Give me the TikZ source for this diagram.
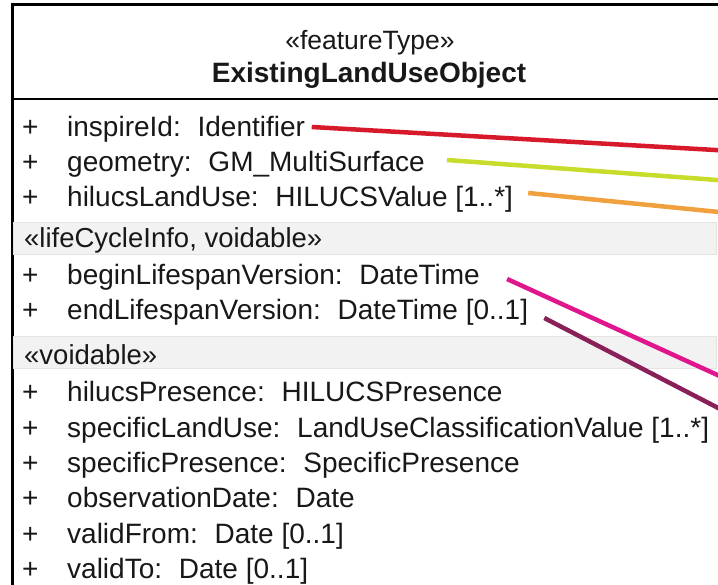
\documentclass[tikz,border=0pt]{standalone}
\usepackage{fontspec}
\setmainfont{Liberation Sans}
\usepackage{tikz}
\usetikzlibrary{positioning}

\definecolor{txtDark}{RGB}{24,24,24}
\definecolor{bandGray}{RGB}{242,242,242}
\definecolor{bandLine}{RGB}{228,228,228}
\definecolor{lnRed}{RGB}{214,26,44}
\definecolor{lnYellow}{RGB}{200,220,44}
\definecolor{lnOrange}{RGB}{240,160,62}
\definecolor{lnMagenta}{RGB}{224,22,140}
\definecolor{lnPurple}{RGB}{138,32,90}

\newcommand{\colgap}{\hspace{0.6em}}
\newcommand{\plusbox}{\makebox[45pt][l]{+}}

\begin{document}
\begin{tikzpicture}[x=1pt,y=1pt,yscale=-1,xscale=1,
  attr/.style={anchor=base west,inner sep=0pt,text height=20pt,text depth=6pt,text=txtDark,font=\fontsize{28}{32}\selectfont},
  stereo/.style={anchor=base west,inner sep=0pt,text=txtDark,font=\fontsize{27.5}{32}\selectfont},
  title/.style={anchor=base,inner sep=0pt,text=txtDark},
  band/.style={fill=bandGray,draw=bandLine,line width=0.8pt},
  conn/.style={line width=4.5pt}]
\useasboundingbox (0,0) rectangle (718,585);
\clip (0,0) rectangle (718,585);

%Shape: Rectangle (class box, runs past the right and lower edges)
\draw [line width=3pt,fill=white] (12,5) rectangle (730,600) ;
%Straight Lines (header divider)
\draw [line width=2pt] (12,99) -- (730,99) ;
%Shape: Rectangle (stereotype bands)
\draw [band] (13.5,222) rectangle (716,254) ;
\draw [band] (13.5,336) rectangle (716,368) ;

%Header
\node [title,font=\fontsize{26.5}{30}\selectfont] (stype) at (370,50) {«featureType»};
\node [title,font=\fontsize{28}{32}\selectfont\bfseries] (cname) at (369,83) {ExistingLandUseObject};

%Attributes
\node [attr] (inspire) at (22,137) {\plusbox inspireId:\colgap Identifier};
\node [attr] (geom) at (22,172) {\plusbox geometry:\colgap GM\_MultiSurface};
\node [attr] (hluse) at (22,207) {\plusbox hilucsLandUse:\colgap HILUCSValue [1..*]};
\node [stereo] (lcinfo) at (24,248) {«lifeCycleInfo, voidable»};
\node [attr] (begin) at (22,285) {\plusbox beginLifespanVersion:\colgap DateTime};
\node [attr] (end) at (22,320) {\plusbox endLifespanVersion:\colgap DateTime [0..1]};
\node [stereo] (voidst) at (24,365) {«voidable»};
\node [attr] (hlpres) at (22,402) {\plusbox hilucsPresence:\colgap HILUCSPresence};
\node [attr] (spuse) at (22,437) {\plusbox specificLandUse:\colgap LandUseClassificationValue [1..*]};
\node [attr] (sppres) at (22,472) {\plusbox specificPresence:\colgap SpecificPresence};
\node [attr] (obsdate) at (22,507) {\plusbox observationDate:\colgap Date};
\node [attr] (vfrom) at (22,543) {\plusbox validFrom:\colgap Date [0..1]};
\node [attr] (vto) at (22,578) {\plusbox validTo:\colgap Date [0..1]};

%Connector ends (outside the picture)
\coordinate (redEnd) at (724,150.5) ;
\coordinate (yelEnd) at (724,180.5) ;
\coordinate (orgEnd) at (724,212.5) ;
\coordinate (magEnd) at (724,378) ;
\coordinate (purEnd) at (724,411) ;

%Straight Lines
\draw [conn,lnRed] ([xshift=6.5pt,yshift=-3pt]inspire.east) -- (redEnd) ;
\draw [conn,lnYellow] ([xshift=22pt,yshift=-5pt]geom.east) -- (yelEnd) ;
\draw [conn,lnOrange] ([xshift=15pt,yshift=-7pt]hluse.east) -- (orgEnd) ;
\draw [conn,lnMagenta] ([xshift=27pt,yshift=1pt]begin.east) -- (magEnd) ;
\draw [conn,lnPurple] ([xshift=16pt,yshift=5pt]end.east) -- (purEnd) ;

\end{tikzpicture}
\end{document}
